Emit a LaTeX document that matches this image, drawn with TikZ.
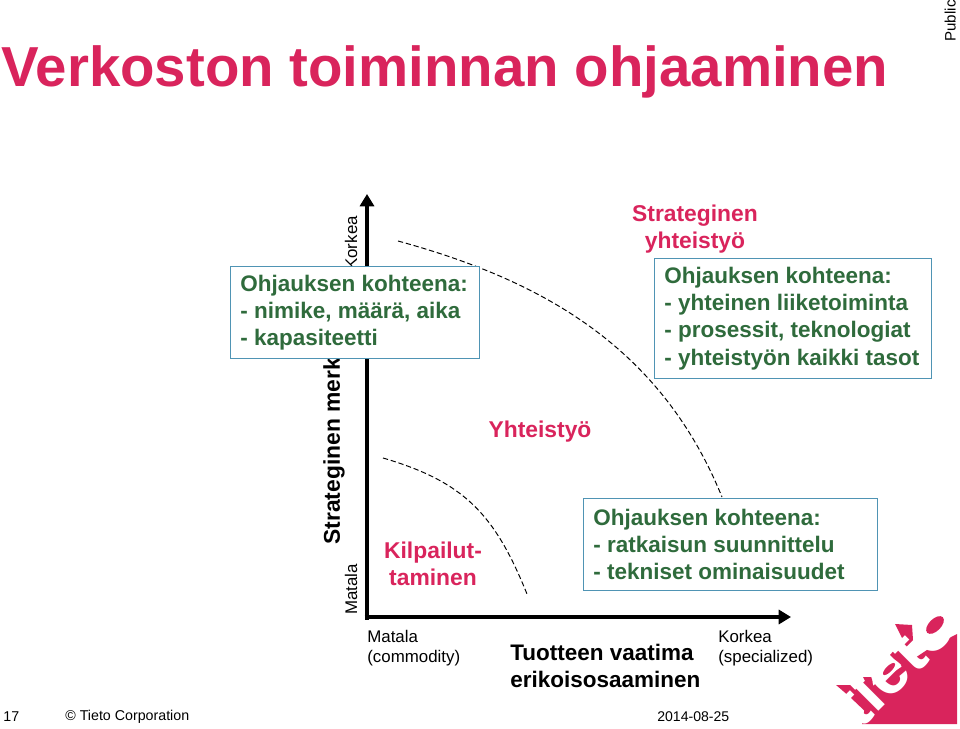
\documentclass[tikz,border=0pt]{standalone}
\usepackage{xcolor}
\usepackage{fontspec}
\setmainfont{Liberation Sans}
\usetikzlibrary{positioning,arrows.meta,calc}
\definecolor{tietored}{HTML}{D9245C}
\definecolor{focusgreen}{HTML}{2F6B3C}
\definecolor{focusblue}{HTML}{4F94B4}

\begin{document}
\begin{tikzpicture}[x=0.02cm, y=-0.02cm,
		focus/.style={draw=focusblue, line width=0.7pt, fill=white, align=flush left, anchor=north west, inner ysep=0pt, inner xsep=5.6pt, text=focusgreen, font=\fontsize{12.8}{15.4}\selectfont\bfseries},
		zone/.style={align=center, text=tietored, font=\fontsize{13}{15.6}\selectfont\bfseries},
		axislabel/.style={align=left, font=\fontsize{9.6}{11.4}\selectfont},
		axis/.style={line width=2.6pt, -{Triangle[length=7pt, width=8pt]}},
		border/.style={dashed, dash pattern=on 3pt off 1.6pt, line width=0.55pt}]
		\useasboundingbox (0,0) rectangle (960,729);

		% heading
		\node[anchor=west, inner sep=0pt, text=tietored, font=\fontsize{32.1}{36}\selectfont\bfseries] (title) at (1,72) {Verkoston toiminnan ohjaaminen};
		\node[rotate=90, anchor=south east, inner sep=0pt, font=\fontsize{8.6}{10}\selectfont] (public) at (956,0) {Public};

		% axes
		\coordinate (origin) at (367,617);
		\coordinate (ytip) at (367,194);
		\coordinate (xtip) at (791,617);
		\draw[axis] ($(origin)+(0,2.5)$) -- (ytip);
		\draw[axis] ($(origin)+(-2.5,0)$) -- (xtip);

		% zone borders
		\coordinate (inner-a) at (383,458);
		\coordinate (inner-b) at (527,594);
		\coordinate (outer-a) at (398,241);
		\coordinate (outer-b) at (722,497);
		\draw[border] (inner-a) .. controls (465,482) and (495,515) .. (inner-b);
		\draw[border] (outer-a) .. controls (540,280) and (660,345) .. (outer-b);

		% y labels
		\node[rotate=90, anchor=west, inner sep=0pt, font=\fontsize{9.6}{12}\selectfont] (ymin) at (351,615) {Matala};
		\node[rotate=90, anchor=west, inner sep=0pt, font=\fontsize{9.6}{12}\selectfont] (ymax) at (351,270) {Korkea};
		\node[rotate=90, anchor=west, inner sep=0pt, font=\fontsize{13}{15}\selectfont\bfseries] (ytitle) at (334,545) {Strateginen merk};

		% focus boxes
		\node[focus, minimum height=52.3pt, text width=130.4pt] (box-a) at (230,266) {Ohjauksen kohteena:\\- nimike, määrä, aika\\- kapasiteetti};
		\node[focus, minimum height=68.3pt, text width=146.4pt] (box-b) at (654,258) {Ohjauksen kohteena:\\- yhteinen liiketoiminta\\- prosessit, teknologiat\\- yhteistyön kaikki tasot};
		\node[focus, minimum height=52.3pt, text width=156.1pt] (box-c) at (583,498) {Ohjauksen kohteena:\\- ratkaisun suunnittelu\\- tekniset ominaisuudet};

		% zones
		\node[zone] (strategic) at (695,229) {Strateginen\\yhteistyö};
		\node[zone] (cooperation) at (540,432) {Yhteistyö};
		\node[zone] (competition) at (433,564) {Kilpailut-\\taminen};

		% x labels
		\node[axislabel, anchor=north west, inner sep=0pt] (xmin) at (367,630) {Matala\\(commodity)};
		\node[axislabel, anchor=north west, inner sep=0pt] (xmax) at (718,630) {Korkea\\(specialized)};
		\node[anchor=north west, inner sep=0pt, align=left, font=\fontsize{12.8}{15.4}\selectfont\bfseries] (xtitle) at (510,644) {Tuotteen vaatima\\erikoisosaaminen};

		% footer
		\node[anchor=west, inner sep=0pt, font=\fontsize{8.1}{10}\selectfont] (page) at (3,717) {17};
		\node[anchor=west, inner sep=0pt, font=\fontsize{8.1}{10}\selectfont] (corp) at (65,717) {© Tieto Corporation};
		\node[anchor=west, inner sep=0pt, font=\fontsize{8}{10}\selectfont] (date) at (657,717) {2014-08-25};

		% logo
		\fill[tietored] (862,724) -- (957,724) -- (957,634) -- (930,648) -- (868,689) -- cycle;
		\fill[tietored] (836,685) -- (850,685) -- (855,690) -- (865,681) -- (863,677) -- (872,677) -- (873,686) -- (866,693) -- (880,707) -- (870,716) -- (850,697) -- cycle;
		\fill[tietored] (895,624) -- (912,625) -- (913,640) -- (905,648) -- (915,660) -- (905,670) -- (890,655) -- (903,640) -- cycle;
		\node[rotate=45, inner sep=0pt, text=white, font=\fontsize{38}{38}\selectfont\bfseries] (logo) at (893,664) {tieto};
		\fill[tietored, rotate around={45:(935,625)}] (935,625) ellipse (11 and 6);
		\fill[tietored, rotate around={45:(889,669)}] (889,669) ellipse (8 and 3);
	\end{tikzpicture}
\end{document}
